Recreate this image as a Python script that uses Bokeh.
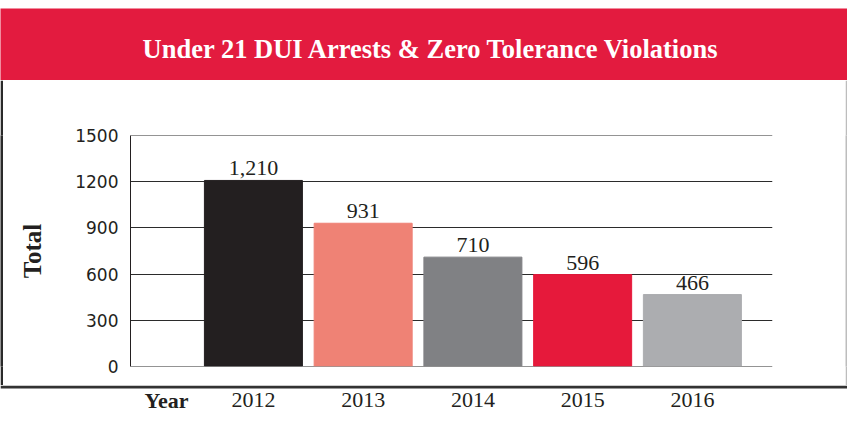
from bokeh.plotting import figure
from bokeh.layouts import column, row
from bokeh.models import Range1d, Label, LabelSet, FixedTicker, ColumnDataSource, Span
from bokeh.embed import file_html
from bokeh.resources import INLINE
from bokeh.core.properties import value

# ---- data ----
title_text = "Under 21 DUI Arrests & Zero Tolerance Violations"
years = ["2012", "2013", "2014", "2015", "2016"]
totals = [1210, 931, 710, 596, 466]
total_labels = ["1,210", "931", "710", "596", "466"]
y_ticks = [0, 300, 600, 900, 1200, 1500]
bar_colors = ["#231F20", "#EF8275", "#808184", "#E6193B", "#ACADB0"]

# ---- geometry (page pixels, relative to the layout's top-left) ----
W = 847
TOP_H = 80          # title figure (8 px white + 72 px red band)
MID_H = 305         # boxed chart area
LEFT_W, RIGHT_W = 3, 2
BORDER_W = 3        # bottom border thickness
YEAR_H = 411 - TOP_H - MID_H
FRAME_LEFT_PAGE = 130
FW, FH = 642, 231
FT = 55
X0, X1 = -1.12, 4.73
Y0, Y1 = -3, 1503
TEXT = "#231F20"
SERIF = "Liberation Serif"

common = dict(output_backend="svg", toolbar_location=None)


def strip(w, h, color):
    s = figure(width=w, height=h, x_range=Range1d(0, 1), y_range=Range1d(0, 1),
               min_border=0, **common)
    s.axis.visible = False
    s.grid.visible = False
    s.background_fill_color = color
    s.border_fill_color = color
    s.outline_line_color = None
    return s


# ---- title band ----
pt = figure(width=W, height=TOP_H, x_range=Range1d(0, W), y_range=Range1d(0, TOP_H - 8),
            min_border_left=0, min_border_right=0, min_border_bottom=0, min_border_top=8,
            **common)
pt.axis.visible = False
pt.grid.visible = False
pt.background_fill_color = "#E31B3F"
pt.border_fill_color = "white"
pt.outline_line_color = None
pt.add_layout(Label(x=431, y=32, text=title_text, text_align="center",
                    text_baseline="alphabetic", text_font=SERIF, text_font_style="bold",
                    text_font_size="26.5px", text_color="white"))

# ---- chart ----
CW = W - LEFT_W - RIGHT_W
FL = FRAME_LEFT_PAGE - LEFT_W
p = figure(width=CW, height=MID_H, x_range=Range1d(X0, X1), y_range=Range1d(Y0, Y1),
           min_border_left=FL, min_border_right=CW - FL - FW,
           min_border_top=FT, min_border_bottom=MID_H - FT - FH, **common)
p.background_fill_color = "white"
p.border_fill_color = "white"
p.outline_line_color = None

idx = list(range(len(years)))
source = ColumnDataSource(dict(x=idx, top=totals, color=bar_colors, label=total_labels))
p.vbar(x="x", top="top", width=0.893, color="color", source=source)
p.add_layout(LabelSet(x="x", y="top", text="label", source=source, y_offset=5,
                      text_align="center", text_baseline="alphabetic",
                      text_font=value(SERIF), text_font_size=value("22px"),
                      text_color=TEXT))

p.xaxis.visible = False
p.yaxis.ticker = FixedTicker(ticks=y_ticks)
p.yaxis.axis_line_color = TEXT
p.yaxis.axis_line_width = 1
p.yaxis.major_tick_line_color = None
p.yaxis.minor_tick_line_color = None
p.yaxis.major_tick_out = 0
p.yaxis.major_tick_in = 0
p.yaxis.minor_tick_out = 0
p.yaxis.major_label_standoff = 12
p.yaxis.major_label_text_font = "DejaVu Sans"
p.yaxis.major_label_text_font_size = "17px"
p.yaxis.major_label_text_color = TEXT
p.yaxis.axis_label = "Total"
p.yaxis.axis_label_text_font = SERIF
p.yaxis.axis_label_text_font_style = "bold"
p.yaxis.axis_label_text_font_size = "25px"
p.yaxis.axis_label_text_color = TEXT
p.yaxis.axis_label_standoff = 26

p.xgrid.visible = False
p.ygrid.grid_line_color = "#2B2B2B"
p.ygrid.grid_line_width = 1

# ---- bottom border + year row (same x scale as the chart) ----
k = (X1 - X0) / FW
py = figure(width=W, height=YEAR_H,
            x_range=Range1d(X0 - FRAME_LEFT_PAGE * k, X0 + (W - FRAME_LEFT_PAGE) * k),
            y_range=Range1d(0, YEAR_H), min_border=0, **common)
py.axis.visible = False
py.grid.visible = False
py.background_fill_color = "white"
py.border_fill_color = "white"
py.outline_line_color = None
py.add_layout(Span(location=YEAR_H - BORDER_W / 2, dimension="width",
                   line_color="#333333", line_width=BORDER_W))
text_mid = (YEAR_H - BORDER_W) / 2
ysrc = ColumnDataSource(dict(x=idx, text=years))
py.text(x="x", y=text_mid, text="text", source=ysrc, text_align="center",
        text_baseline="middle", text_font=value(SERIF), text_font_size=value("22px"),
        text_color=TEXT)
py.text(x=[X0 + (166 - FRAME_LEFT_PAGE) * k], y=text_mid, text=["Year"], text_align="center",
        text_baseline="middle", text_font=value(SERIF), text_font_size=value("22px"),
        text_font_style="bold", text_color=TEXT)

layout = column(
    pt,
    row(strip(LEFT_W, MID_H, "#2A2A2A"), p, strip(RIGHT_W, MID_H, "#BDBDBD")),
    py,
)

open("out.html", "w").write(file_html(layout, INLINE))
